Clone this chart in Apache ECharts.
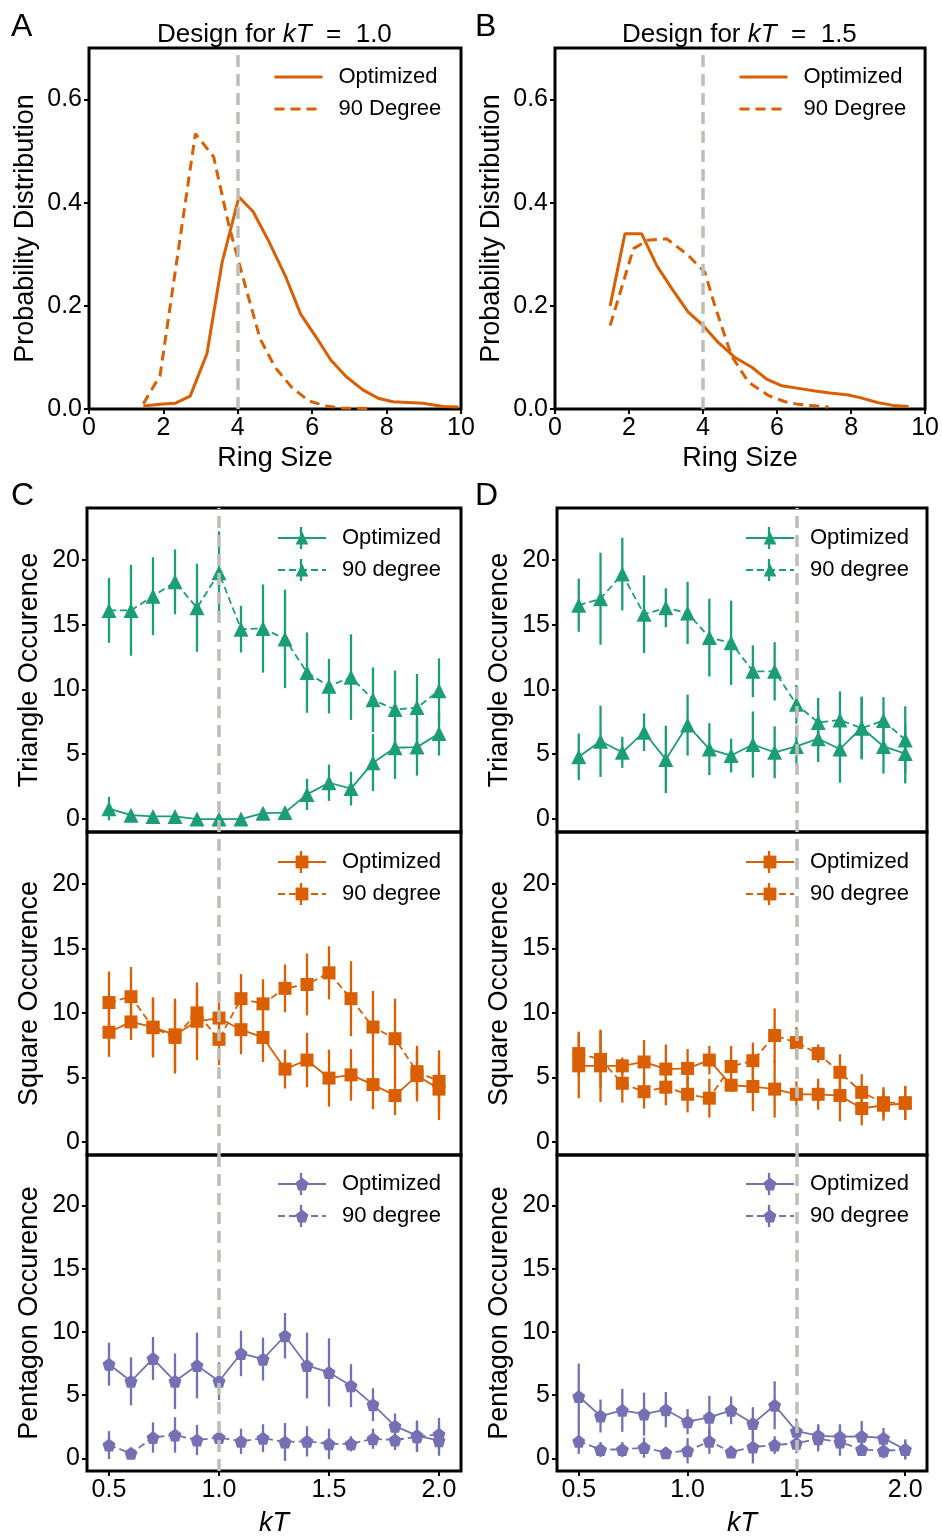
<!DOCTYPE html>
<html>
<head>
<meta charset="utf-8">
<title>Ring size distributions and occurrence vs kT</title>
<script src="https://cdn.jsdelivr.net/npm/echarts@6/dist/echarts.min.js"></script>
<style>
  html, body { margin: 0; padding: 0; background: #fff; }
  #chart { width: 942px; height: 1538px; }
</style>
</head>
<body>
<div id="chart"></div>
<script>
// ---- data ----
// A / B: ring size probability distributions, [ring size, probability]
const ringA_opt = [[1.46, 0.006], [1.91, 0.009], [2.31, 0.011], [2.72, 0.025], [3.17, 0.107], [3.58, 0.285], [4.03, 0.411], [4.41, 0.383], [4.84, 0.324], [5.29, 0.256], [5.69, 0.184], [6.10, 0.140], [6.50, 0.095], [6.91, 0.063], [7.36, 0.037], [7.77, 0.021], [8.17, 0.014], [8.98, 0.011], [9.52, 0.005], [9.93, 0.004]];
const ringA_90 = [[1.46, 0.010], [1.91, 0.065], [2.86, 0.534], [3.35, 0.489], [3.76, 0.356], [4.20, 0.239], [4.60, 0.136], [5.00, 0.081], [5.45, 0.042], [5.90, 0.016], [6.35, 0.006], [6.80, 0.002], [7.50, 0.001]];
const ringB_opt = [[1.49, 0.200], [1.89, 0.340], [2.34, 0.340], [2.75, 0.278], [3.17, 0.232], [3.60, 0.188], [4.00, 0.162], [4.41, 0.129], [4.86, 0.100], [5.32, 0.081], [5.72, 0.058], [6.13, 0.045], [6.58, 0.040], [7.03, 0.035], [7.43, 0.031], [7.93, 0.027], [8.24, 0.022], [8.74, 0.012], [9.14, 0.007], [9.55, 0.005]];
const ringB_90 = [[1.49, 0.162], [2.12, 0.311], [2.50, 0.327], [3.02, 0.330], [3.60, 0.298], [4.05, 0.265], [4.32, 0.200], [4.77, 0.103], [5.23, 0.052], [5.77, 0.026], [6.22, 0.014], [6.58, 0.009], [7.39, 0.004]];

// C / D: occurrence vs kT, mean and error bar half-length
const kT = [0.5, 0.6, 0.7, 0.8, 0.9, 1.0, 1.1, 1.2, 1.3, 1.4, 1.5, 1.6, 1.7, 1.8, 1.9, 2.0];

const triC_opt = [0.8, 0.3, 0.2, 0.2, 0.0, 0.0, 0.0, 0.45, 0.5, 1.9, 2.8, 2.35, 4.35, 5.5, 5.55, 6.6];
const triC_optErr = [0.9, 0.3, 0.2, 0.2, 0.2, 0.2, 0.2, 0.4, 0.4, 1.2, 1.4, 1.3, 2.2, 2.4, 2.2, 1.7];
const triC_deg = [16.1, 16.1, 17.2, 18.3, 16.3, 19.0, 14.65, 14.7, 13.9, 11.3, 10.25, 10.95, 9.2, 8.45, 8.6, 9.9];
const triC_degErr = [2.5, 3.5, 3.0, 2.5, 3.4, 3.2, 1.8, 3.4, 3.8, 3.1, 2.1, 3.3, 2.5, 3.0, 2.6, 2.5];

const sqC_opt = [8.5, 9.3, 8.9, 8.3, 9.35, 9.6, 8.7, 8.1, 5.65, 6.35, 4.95, 5.2, 4.45, 3.6, 5.15, 4.1];
const sqC_optErr = [1.9, 1.4, 2.3, 2.8, 3.0, 2.0, 1.9, 1.9, 1.5, 2.1, 2.2, 2.0, 1.9, 1.5, 2.0, 2.4];
const sqC_deg = [10.8, 11.25, 8.85, 8.1, 10.0, 7.95, 11.1, 10.7, 11.9, 12.2, 13.1, 11.1, 8.9, 8.0, 5.45, 4.7];
const sqC_degErr = [2.4, 2.3, 2.3, 2.8, 2.1, 2.0, 1.9, 1.9, 1.85, 2.4, 2.05, 2.9, 2.8, 3.1, 2.0, 2.4];

const pentC_opt = [7.45, 6.1, 7.9, 6.1, 7.35, 6.1, 8.3, 7.85, 9.7, 7.35, 6.8, 5.75, 4.25, 2.55, 1.8, 1.4];
const pentC_optErr = [1.7, 1.9, 1.7, 2.2, 2.6, 1.5, 1.8, 1.7, 1.8, 2.6, 2.7, 1.7, 1.3, 1.0, 1.2, 1.2];
const pentC_deg = [1.05, 0.4, 1.65, 1.85, 1.45, 1.65, 1.35, 1.6, 1.3, 1.35, 1.15, 1.15, 1.55, 1.45, 1.7, 1.9];
const pentC_degErr = [1.1, 0.3, 1.2, 1.4, 1.2, 0.8, 1.0, 1.1, 1.5, 1.2, 1.2, 0.6, 0.8, 0.8, 1.2, 1.3];

const triD_opt = [4.8, 6.0, 5.15, 6.7, 4.6, 7.25, 5.4, 4.9, 5.75, 5.15, 5.6, 6.2, 5.4, 7.05, 5.6, 5.05];
const triD_optErr = [1.8, 2.75, 1.2, 1.45, 2.6, 2.35, 2.0, 1.3, 2.55, 2.0, 1.5, 1.8, 2.6, 2.4, 2.1, 2.3];
const triD_deg = [16.5, 17.0, 18.9, 15.8, 16.3, 15.9, 14.0, 13.6, 11.4, 11.4, 8.85, 7.45, 7.65, 7.0, 7.6, 6.1];
const triD_degErr = [2.05, 3.55, 2.8, 3.0, 1.5, 2.4, 3.0, 3.25, 2.0, 2.25, 1.5, 1.9, 2.2, 2.4, 1.8, 2.6];

const sqD_opt = [5.9, 5.9, 5.9, 6.2, 5.65, 5.7, 6.35, 4.4, 4.3, 4.1, 3.7, 3.7, 3.6, 2.6, 2.85, 3.0];
const sqD_optErr = [2.5, 2.8, 0.65, 1.7, 1.9, 1.5, 1.1, 0.5, 1.9, 2.2, 1.0, 1.2, 2.0, 1.3, 1.2, 1.3];
const sqD_deg = [6.85, 6.4, 4.55, 3.9, 4.25, 3.7, 3.4, 5.85, 6.3, 8.25, 7.7, 6.85, 5.4, 3.85, 3.05, 3.05];
const sqD_degErr = [1.7, 2.2, 1.5, 1.3, 1.4, 1.4, 1.5, 1.6, 1.4, 2.1, 1.2, 0.7, 1.4, 1.4, 1.2, 1.3];

const pentD_opt = [4.9, 3.35, 3.8, 3.5, 3.85, 2.9, 3.25, 3.8, 2.75, 4.2, 2.15, 1.8, 1.7, 1.75, 1.6, 0.7];
const pentD_optErr = [2.6, 1.3, 1.7, 1.7, 1.4, 1.0, 1.7, 1.1, 1.3, 1.9, 1.0, 0.9, 1.0, 1.2, 0.8, 0.7];
const pentD_deg = [1.35, 0.7, 0.7, 0.85, 0.45, 0.6, 1.35, 0.5, 0.9, 1.05, 1.2, 1.55, 1.3, 0.7, 0.6, 0.7];
const pentD_degErr = [1.0, 0.6, 0.6, 0.8, 0.4, 1.0, 1.0, 0.5, 1.3, 0.7, 0.8, 1.0, 1.1, 0.5, 0.6, 0.8];

const ringTicks = [0, 2, 4, 6, 8, 10];
const probTicks = [0, 0.2, 0.4, 0.6];
const kTTicks = [0.5, 1.0, 1.5, 2.0];
const occTicks = [0, 5, 10, 15, 20];

// ---- styling ----
const FONT = 'Liberation Sans';
const ORANGE = '#d95f02';
const GREEN = '#1b9e77';
const PURPLE = '#7570b3';
const GREY = '#bdbfb7';
const PENTAGON = 'path://M0,-1L0.951,-0.309L0.588,0.809L-0.588,0.809L-0.951,-0.309Z';

const grids = [
  { left: 89, top: 48, width: 372, height: 361 },   // A
  { left: 555, top: 48, width: 371, height: 361 },  // B
  { left: 87, top: 508, width: 374, height: 324 },  // C triangle
  { left: 87, top: 832, width: 374, height: 323 },  // C square
  { left: 87, top: 1155, width: 374, height: 322 }, // C pentagon
  { left: 557, top: 508, width: 370, height: 324 }, // D triangle
  { left: 557, top: 832, width: 370, height: 323 }, // D square
  { left: 557, top: 1155, width: 370, height: 322 } // D pentagon
].map(g => Object.assign(g, { show: true, borderColor: '#000', borderWidth: 3, backgroundColor: 'transparent' }));

const tickStyle = { show: true, inside: false, length: 5, lineStyle: { color: '#000', width: 2 } };
const labelStyle = { color: '#000', fontFamily: FONT, fontSize: 25 };
const nameStyle = { color: '#000', fontFamily: FONT, fontSize: 27 };

function xAxisRing(gi) {
  return {
    gridIndex: gi, type: 'value', min: 0, max: 10,
    axisLine: { show: false, onZero: false },
    splitLine: { show: false },
    axisTick: Object.assign({ customValues: ringTicks }, tickStyle),
    axisLabel: Object.assign({ customValues: ringTicks, margin: 7 }, labelStyle),
    name: 'Ring Size', nameLocation: 'middle', nameGap: 36, nameTextStyle: nameStyle
  };
}
function yAxisProb(gi, gap) {
  return {
    gridIndex: gi, type: 'value', min: 0, max: 0.7,
    axisLine: { show: false, onZero: false },
    splitLine: { show: false },
    axisTick: Object.assign({ customValues: probTicks }, tickStyle),
    axisLabel: Object.assign({ customValues: probTicks, margin: 7, formatter: v => v.toFixed(1) }, labelStyle),
    name: 'Probability Distribution', nameLocation: 'middle', nameGap: gap, nameTextStyle: nameStyle
  };
}
function xAxisKT(gi, bottom) {
  return {
    gridIndex: gi, type: 'value', min: 0.4, max: 2.1,
    axisLine: { show: false, onZero: false },
    splitLine: { show: false },
    axisTick: Object.assign({ customValues: kTTicks }, tickStyle, { show: bottom }),
    axisLabel: Object.assign({ customValues: kTTicks, margin: 7, show: bottom, formatter: v => v.toFixed(1) }, labelStyle),
    name: bottom ? 'kT' : '', nameLocation: 'middle', nameGap: 39,
    nameTextStyle: Object.assign({}, nameStyle, { fontStyle: 'italic' })
  };
}
function yAxisOcc(gi, name) {
  return {
    gridIndex: gi, type: 'value', min: -1, max: 24,
    axisLine: { show: false, onZero: false },
    splitLine: { show: false },
    axisTick: Object.assign({ customValues: occTicks }, tickStyle),
    axisLabel: Object.assign({ customValues: occTicks, margin: 7 }, labelStyle),
    name: name, nameLocation: 'middle', nameGap: 44, nameTextStyle: nameStyle
  };
}

const series = [];

function refLine(gi, x) {
  series.push({
    name: 'ref' + gi, type: 'line', xAxisIndex: gi, yAxisIndex: gi, data: [], z: 1,
    markLine: {
      silent: true, symbol: ['none', 'none'], label: { show: false },
      lineStyle: { color: GREY, width: 3.5, type: [12, 7] },
      data: [{ xAxis: x }]
    }
  });
}

function ringLine(gi, name, data, dashed) {
  series.push({
    name: name, type: 'line', xAxisIndex: gi, yAxisIndex: gi, data: data,
    symbol: 'none', z: 3,
    lineStyle: { color: ORANGE, width: 3, type: dashed ? [10, 6] : 'solid' },
    itemStyle: { color: ORANGE }
  });
}

function errorBars(gi, vals, errs, color) {
  series.push({
    name: 'err', type: 'custom', xAxisIndex: gi, yAxisIndex: gi, z: 2, silent: true,
    data: kT.map((x, i) => [x, vals[i], errs[i]]),
    encode: { x: 0, y: 1 },
    renderItem: (params, api) => {
      const x = api.value(0), y = api.value(1), e = api.value(2);
      const lo = api.coord([x, y - e]);
      const hi = api.coord([x, y + e]);
      return {
        type: 'line',
        shape: { x1: lo[0], y1: lo[1], x2: hi[0], y2: hi[1] },
        style: { stroke: color, lineWidth: 2.3 }
      };
    }
  });
}

function occLine(gi, name, vals, errs, color, symbol, size, dashed) {
  errorBars(gi, vals, errs, color);
  series.push({
    name: name, type: 'line', xAxisIndex: gi, yAxisIndex: gi, z: 3,
    data: kT.map((x, i) => [x, vals[i]]),
    symbol: symbol, symbolSize: size, showSymbol: true,
    lineStyle: { color: color, width: 1.8, type: dashed ? [7, 4] : 'solid' },
    itemStyle: { color: color }
  });
}

// A and B
refLine(0, 4);
ringLine(0, 'A|Optimized', ringA_opt, false);
ringLine(0, 'A|90 Degree', ringA_90, true);
refLine(1, 4);
ringLine(1, 'B|Optimized', ringB_opt, false);
ringLine(1, 'B|90 Degree', ringB_90, true);

// C (design for kT = 1.0)
[2, 3, 4].forEach(gi => refLine(gi, 1.0));
occLine(2, 'C1|Optimized', triC_opt, triC_optErr, GREEN, 'triangle', 15, false);
occLine(2, 'C1|90 degree', triC_deg, triC_degErr, GREEN, 'triangle', 15, true);
occLine(3, 'C2|Optimized', sqC_opt, sqC_optErr, ORANGE, 'rect', 13, false);
occLine(3, 'C2|90 degree', sqC_deg, sqC_degErr, ORANGE, 'rect', 13, true);
occLine(4, 'C3|Optimized', pentC_opt, pentC_optErr, PURPLE, PENTAGON, 13, false);
occLine(4, 'C3|90 degree', pentC_deg, pentC_degErr, PURPLE, PENTAGON, 13, true);

// D (design for kT = 1.5)
[5, 6, 7].forEach(gi => refLine(gi, 1.5));
occLine(5, 'D1|Optimized', triD_opt, triD_optErr, GREEN, 'triangle', 15, false);
occLine(5, 'D1|90 degree', triD_deg, triD_degErr, GREEN, 'triangle', 15, true);
occLine(6, 'D2|Optimized', sqD_opt, sqD_optErr, ORANGE, 'rect', 13, false);
occLine(6, 'D2|90 degree', sqD_deg, sqD_degErr, ORANGE, 'rect', 13, true);
occLine(7, 'D3|Optimized', pentD_opt, pentD_optErr, PURPLE, PENTAGON, 13, false);
occLine(7, 'D3|90 degree', pentD_deg, pentD_degErr, PURPLE, PENTAGON, 13, true);

// legends: one per panel, prefix keeps the series apart
const LEG_ITEM_H = 16, LEG_GAP = 10, LEG_W = 48, LEG_PAD = 5, LEG_ROW = 22;
function legendAt(prefix, second, left, top, markers) {
  return {
    data: [prefix + '|Optimized', prefix + '|' + second],
    left: left, top: top, orient: 'vertical', padding: LEG_PAD,
    itemWidth: LEG_W, itemHeight: LEG_ITEM_H, itemGap: LEG_GAP,
    selectedMode: false,
    itemStyle: markers ? {} : { opacity: 0 },
    lineStyle: markers ? {} : { width: 3 },
    formatter: n => n.split('|')[1],
    textStyle: { color: '#000', fontFamily: FONT, fontSize: 22, padding: [0, 0, 0, 11] }
  };
}

const legendSpots = [
  ['A', '90 Degree', 268, 61, false],
  ['B', '90 Degree', 733, 61, false],
  ['C1', '90 degree', 272, 522, 'c'],
  ['C2', '90 degree', 272, 846, 'c'],
  ['C3', '90 degree', 272, 1168, 'c'],
  ['D1', '90 degree', 740, 522, 'd'],
  ['D2', '90 degree', 740, 846, 'd'],
  ['D3', '90 degree', 740, 1168, 'd']
];
const legends = legendSpots.map(s => legendAt(s[0], s[1], s[2], s[3], !!s[4]));

// small vertical error-bar strokes through the legend markers of C and D
const legendColors = { C1: GREEN, C2: ORANGE, C3: PURPLE, D1: GREEN, D2: ORANGE, D3: PURPLE };
const legendBars = [];
legendSpots.filter(s => s[4]).forEach(s => {
  const cx = s[2] + LEG_PAD + LEG_W / 2;
  [0, 1].forEach(k => {
    const cy = s[3] + LEG_PAD + LEG_ROW / 2 + k * (LEG_ROW + LEG_GAP);
    legendBars.push({
      type: 'line', z: 100,
      shape: { x1: cx, y1: cy - 11, x2: cx, y2: cy + 11 },
      style: { stroke: legendColors[s[0]], lineWidth: 2.3 }
    });
  });
});

const titleRich = { i: { fontStyle: 'italic', fontFamily: FONT, fontSize: 26, color: '#000' } };
const titles = [
  { text: 'Design for {i|kT}  =  1.0', left: 152, top: 17, textStyle: { fontFamily: FONT, fontSize: 26, fontWeight: 'normal', color: '#000', rich: titleRich } },
  { text: 'Design for {i|kT}  =  1.5', left: 617, top: 17, textStyle: { fontFamily: FONT, fontSize: 26, fontWeight: 'normal', color: '#000', rich: titleRich } }
];

const panelLetter = (t, x, y) => ({
  type: 'text', left: x, top: y,
  style: { text: t, fontFamily: FONT, fontSize: 32, fill: '#000' }
});

const option = {
  animation: false,
  backgroundColor: '#fff',
  title: titles,
  legend: legends,
  grid: grids,
  xAxis: [
    xAxisRing(0), xAxisRing(1),
    xAxisKT(2, false), xAxisKT(3, false), xAxisKT(4, true),
    xAxisKT(5, false), xAxisKT(6, false), xAxisKT(7, true)
  ],
  yAxis: [
    yAxisProb(0, 50), yAxisProb(1, 50),
    yAxisOcc(2, 'Triangle Occurence'), yAxisOcc(3, 'Square Occurence'), yAxisOcc(4, 'Pentagon Occurence'),
    yAxisOcc(5, 'Triangle Occurence'), yAxisOcc(6, 'Square Occurence'), yAxisOcc(7, 'Pentagon Occurence')
  ],
  graphic: [
    panelLetter('A', 11, 11),
    panelLetter('B', 475, 11),
    panelLetter('C', 11, 480),
    panelLetter('D', 475, 480)
  ].concat(legendBars),
  series: series
};

const myChart = echarts.init(document.getElementById('chart'));
myChart.setOption(option);
</script>
</body>
</html>
